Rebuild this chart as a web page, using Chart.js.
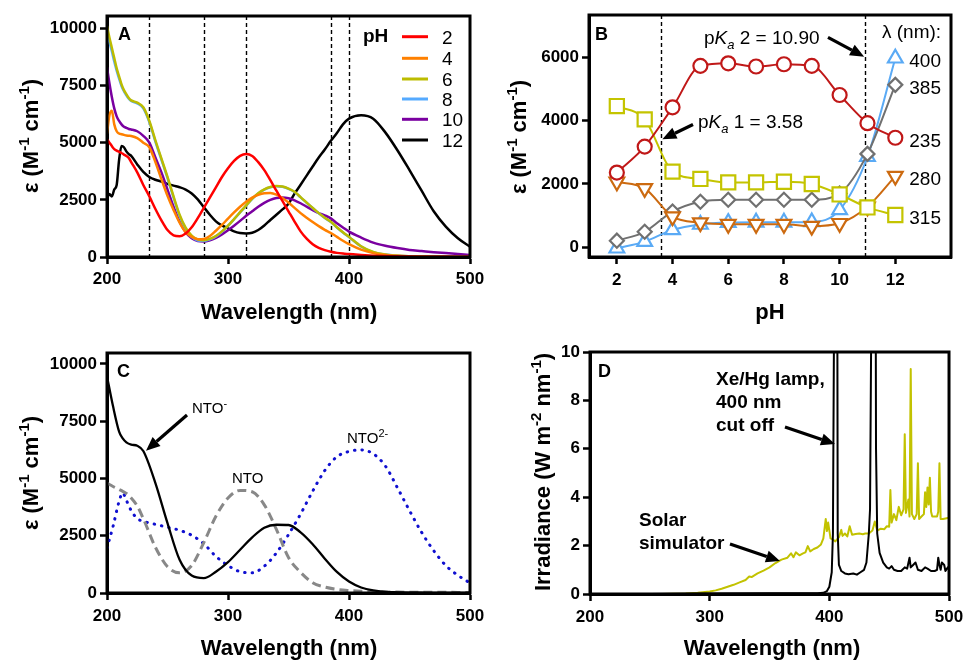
<!DOCTYPE html>
<html><head><meta charset="utf-8">
<script src="https://cdn.jsdelivr.net/npm/chart.js@4/dist/chart.umd.min.js"></script>
<style>
html,body{margin:0;padding:0;background:#fff;}
#wrap{position:relative;width:969px;height:660px;background:#fff;}
canvas{position:absolute;left:0;top:0;}
</style></head><body>
<div id="wrap">
<canvas id="cA" width="969" height="660"></canvas>
<canvas id="cB" width="969" height="660"></canvas>
<canvas id="cC" width="969" height="660"></canvas>
<canvas id="cD" width="969" height="660"></canvas>
</div>
<script>
const FONT = '"Liberation Sans", Arial, Helvetica, sans-serif';

// ---------- Panel A data ----------
const wlA = [200,202,204,206,208,210,212,214,216,218,220,225,230,235,240,245,250,255,260,265,270,275,280,285,290,295,300,305,310,315,320,325,330,335,340,345,350,355,360,365,370,375,380,385,390,395,400,410,420,430,440,450,460,470,480,490,500];
const pHLabels = ['2','4','6','8','10','12'];
const epsPH2 = [5150,5000,4850,4720,4650,4600,4550,4480,4420,4330,4150,3700,3150,2650,2100,1600,1180,950,910,1030,1300,1700,2150,2600,3050,3500,3880,4200,4420,4500,4420,4150,3800,3360,2900,2450,2000,1550,1120,800,560,400,300,230,180,150,130,90,60,40,30,20,15,10,10,10,10];
const epsPH4 = [5400,6200,6400,5800,5500,5400,5370,5340,5310,5300,5290,5200,5000,4800,4150,3400,2680,2060,1500,1080,880,780,790,920,1150,1400,1680,1950,2200,2420,2600,2720,2790,2800,2730,2580,2380,2150,1920,1720,1530,1350,1190,1050,880,710,560,320,170,90,50,30,18,10,6,4,2];
const epsPH6 = [10100,9600,9150,8700,8250,7900,7550,7300,7120,6950,6850,6750,6550,5950,5100,4300,3500,2650,1850,1280,930,770,730,790,920,1120,1370,1660,1960,2260,2550,2790,2960,3060,3100,3080,2990,2850,2620,2380,2150,1920,1720,1540,1300,1080,880,470,220,110,55,30,18,10,6,4,3];
const epsPH8 = [9900,9400,9000,8550,8150,7800,7480,7250,7070,6920,6820,6720,6500,5900,5050,4250,3450,2600,1800,1220,880,720,700,770,900,1100,1360,1650,1950,2250,2540,2780,2950,3050,3090,3070,2980,2840,2610,2370,2140,1910,1710,1530,1290,1070,870,460,215,105,52,28,16,9,5,3,2];
const epsPH10 = [8300,7600,7000,6500,6150,5950,5800,5700,5650,5600,5580,5500,5300,5000,4350,3700,2950,2200,1550,1080,820,700,680,730,840,990,1170,1370,1580,1800,2000,2200,2370,2500,2580,2600,2570,2480,2350,2200,2050,1920,1820,1690,1480,1290,1110,850,630,490,390,310,260,210,170,130,90];
const epsPH12 = [2560,2750,2650,2950,3150,4250,4850,4800,4620,4500,4420,4050,3720,3500,3380,3300,3200,3120,3050,2950,2780,2520,2180,1850,1560,1380,1250,1120,1050,1030,1060,1180,1380,1620,1850,2080,2330,2770,3160,3560,3960,4350,4700,5080,5420,5800,6050,6200,6050,5450,4670,3800,2900,2000,1330,820,450];
const markA = [235,280,315,385,400];
const xTicksWl = [200,300,400,500];
const yTicksEps = [0,2500,5000,7500,10000];

// ---------- Panel B data ----------
const phB = [2,3,4,5,6,7,8,9,10,11,12];
const lamB = ['235','315','280','385','400'];
const e235 = [2360,3180,4420,5730,5810,5710,5780,5730,4810,3920,3460];
const e315 = [4460,4040,2390,2160,2050,2050,2070,2000,1670,1260,1020];
const e280 = [2070,1860,970,780,730,730,730,670,760,1280,2250];
const e385 = [210,490,1130,1440,1500,1500,1500,1500,1700,2950,5130];
const e400 = [-30,180,550,720,780,790,790,800,1180,2860,5970];
const pKa = [3.58, 10.90];
const xTicksPH = [2,4,6,8,10,12];
const yTicksB = [0,2000,4000,6000];

// ---------- Panel C data ----------
const wlC = [200,205,210,213,216,220,225,230,240,250,260,270,280,290,300,310,320,330,340,350,360,370,380,390,400,410,420,430,440,450,460,470,480,490,500];
const epsNTO = [4800,4650,4520,4440,4350,4150,3800,3250,2000,1150,880,1200,2200,3350,4150,4480,4420,3850,2780,1550,900,450,260,160,110,80,60,50,40,35,30,30,30,25,25];
const epsNTOm = [9460,8150,7050,6750,6580,6480,6430,6200,4800,3050,1450,760,650,930,1350,1890,2430,2850,2980,2970,2650,2130,1500,920,500,240,110,50,30,15,10,5,5,5,5];
const epsNTO2m = [1970,2910,4000,4370,4050,3600,3250,3130,3000,2870,2740,2520,2150,1600,1200,930,880,1170,1750,2550,3450,4450,5350,5950,6180,6250,6080,5550,4600,3600,2650,1850,1200,770,440];

// ---------- Panel D data ----------
const wlSolar = [250,260,270,280,290,300,305,310,315,320,325,330,333,335,340,345,350,355,360,365,368,370,372,375,378,380,382,384,387,390,393,395,397,398,399,401,403,405,408,410,411,413,415,417,419,422,425,428,430,433,436,438,440,443,446,448,450,451,452,454,456,458,460,462,463,464,466,467,468,469,471,473,474,475,477,479,480,481,482,483,484,485,486,488,490,491,492,493,495,497,500];
const irrSolar = [0,0,0.01,0.02,0.05,0.1,0.15,0.22,0.3,0.38,0.48,0.58,0.72,0.7,0.85,0.97,1.1,1.28,1.42,1.5,1.68,1.52,1.72,1.6,1.68,1.72,1.98,1.76,1.86,1.92,2.05,2.3,3.1,2.6,2.95,2.3,2.25,2.17,2.35,2.65,2.4,2.5,2.38,2.8,2.45,2.48,2.5,2.47,2.5,2.5,2.62,3.0,2.62,2.7,2.68,2.8,2.78,4.3,2.95,3.3,3.05,3.6,3.25,3.5,6.6,3.35,3.9,3.2,9.3,3.3,3.1,3.3,5.4,3.1,3.2,3.3,4.2,3.6,4.4,3.7,4.8,3.4,3.2,3.2,3.2,3.4,5.4,3.1,3.1,3.12,3.15];
const wlLamp = [250,300,350,390,395,398,400,402,403,404,405,406,407,408,410,413,416,420,423,426,429,431,433,434,435,436,438,439,440,442,445,448,450,452,454,457,460,463,465,467,468,470,472,474,477,480,482,485,488,490,491,492,493,494,496,497,499,500];
const irrLamp = [0,0.02,0.03,0.03,0.05,0.12,0.3,0.9,2.5,12,30,30,2.5,1.2,0.95,0.85,0.82,0.85,0.8,0.9,1.0,1.3,2.5,3.5,11,30,30,6,2.5,1.7,1.3,1.1,1.05,1.15,1.0,0.95,0.95,1.1,1.05,1.5,1.1,1.2,1.3,1.0,0.95,1.1,1.05,0.95,0.95,1.0,1.5,1.2,1.0,1.3,1.2,0.95,1.1,1.0];
const yTicksD = [0,2,4,6,8,10];

// ---------- helpers ----------
const pts = (xs, ys) => xs.map((x, i) => ({x, y: ys[i]}));
const fnt = (s, b, it) => `${it ? 'italic ' : ''}${b ? 'bold ' : ''}${s}px ${FONT}`;

function rich(ctx, parts, x, y, o = {}) {
  ctx.save();
  ctx.translate(x, y);
  if (o.rot) ctx.rotate(o.rot);
  ctx.fillStyle = '#000';
  ctx.textBaseline = 'alphabetic';
  ctx.textAlign = 'left';
  let total = 0;
  parts.forEach(p => { ctx.font = fnt(p.s, p.b, p.i); p.w = ctx.measureText(p.t).width; total += p.w; });
  let cx = o.align === 'center' ? -total / 2 : 0;
  const by = o.vc ? o.vc : 0;
  parts.forEach(p => { ctx.font = fnt(p.s, p.b, p.i); ctx.fillText(p.t, cx, by + (p.dy || 0)); cx += p.w; });
  ctx.restore();
}
function arrow(ctx, x1, y1, x2, y2) {
  const a = Math.atan2(y2 - y1, x2 - x1), hl = 14, hw = 6;
  const bx = x2 - hl * Math.cos(a), by = y2 - hl * Math.sin(a);
  ctx.save();
  ctx.strokeStyle = '#000'; ctx.fillStyle = '#000'; ctx.lineWidth = 3.2; ctx.lineCap = 'butt';
  ctx.beginPath(); ctx.moveTo(x1, y1); ctx.lineTo(bx, by); ctx.stroke();
  ctx.beginPath();
  ctx.moveTo(x2, y2);
  ctx.lineTo(bx + hw * Math.sin(a), by - hw * Math.cos(a));
  ctx.lineTo(bx - hw * Math.sin(a), by + hw * Math.cos(a));
  ctx.closePath(); ctx.fill();
  ctx.restore();
}
function box(chart) {
  const ca = chart.chartArea, ctx = chart.ctx;
  ctx.save(); ctx.strokeStyle = '#000'; ctx.lineWidth = 3;
  ctx.strokeRect(ca.left, ca.top, ca.right - ca.left, ca.bottom - ca.top);
  ctx.restore();
}
function vlines(chart, vals, dash, lw) {
  const ctx = chart.ctx, ca = chart.chartArea, xs = chart.scales.x;
  ctx.save(); ctx.strokeStyle = '#000'; ctx.lineWidth = lw; ctx.setLineDash(dash);
  vals.forEach(v => { const px = Math.round(xs.getPixelForValue(v)) + 0.5; ctx.beginPath(); ctx.moveTo(px, ca.top); ctx.lineTo(px, ca.bottom); ctx.stroke(); });
  ctx.restore();
}
const TICKFONT = {family: FONT, size: 17, weight: 'bold'};
function xAxis(min, max, ticks, pad) {
  return {type: 'linear', min, max,
    afterBuildTicks: s => { s.ticks = ticks.map(v => ({value: v})); },
    afterFit: s => { s.height = 50; },
    ticks: {font: TICKFONT, color: '#000', padding: pad, maxRotation: 0, autoSkip: false, callback: v => String(v)},
    grid: {drawOnChartArea: false, drawTicks: true, tickLength: 7, tickWidth: 2.5, color: '#000'},
    border: {display: true, width: 3, color: '#000'}};
}
function yAxis(min, max, ticks) {
  return {type: 'linear', min, max,
    afterBuildTicks: s => { s.ticks = ticks.map(v => ({value: v})); },
    afterFit: s => { s.width = 70; },
    ticks: {font: TICKFONT, color: '#000', padding: 3, autoSkip: false, callback: v => String(v)},
    grid: {drawOnChartArea: false, drawTicks: true, tickLength: 7, tickWidth: 2.5, color: '#000'},
    border: {display: true, width: 3, color: '#000'}};
}
function baseOpts(pad, scales) {
  return {responsive: false, animation: false, events: [],
    layout: {padding: pad},
    plugins: {legend: {display: false}, tooltip: {enabled: false}, title: {display: false}},
    scales};
}
function lineDs(label, data, color, extra = {}) {
  return Object.assign({label, data, borderColor: color, backgroundColor: color, borderWidth: 2.5,
    pointRadius: 0, fill: false, cubicInterpolationMode: 'monotone', borderJoinStyle: 'round'}, extra);
}
const epsTitle = [
  {t: 'ε (M', s: 22, b: true}, {t: '-1', s: 15, b: true, dy: -9},
  {t: ' cm', s: 22, b: true}, {t: '-1', s: 15, b: true, dy: -9}, {t: ')', s: 22, b: true}];
const wlTitle = [{t: 'Wavelength (nm)', s: 22, b: true}];

// ---------- Panel A ----------
const colorsA = ['#ff0000', '#ff8000', '#bcbc00', '#55aaff', '#7a00a0', '#000000'];
const seriesA = [epsPH2, epsPH4, epsPH6, epsPH8, epsPH10, epsPH12];
new Chart(document.getElementById('cA'), {
  type: 'line',
  data: {datasets: seriesA.map((s, i) => lineDs(pHLabels[i], pts(wlA, s), colorsA[i]))},
  options: baseOpts({left: 37, top: 16, right: 499, bottom: 353},
    {x: xAxis(200, 500, xTicksWl, 5), y: yAxis(0, 10540, yTicksEps)}),
  plugins: [{id: 'pa',
    beforeDatasetsDraw(chart) { vlines(chart, markA, [4, 3], 1.4); },
    afterDraw(chart) {
      const ctx = chart.ctx;
      box(chart);
      rich(ctx, [{t: 'A', s: 18, b: true}], 118, 39.5);
      rich(ctx, [{t: 'pH', s: 19, b: true}], 363, 42);
      const rows = [36.7, 58.3, 79, 99, 119.3, 140];
      chart.data.datasets.forEach((d, i) => {
        ctx.save(); ctx.strokeStyle = d.borderColor; ctx.lineWidth = 3;
        ctx.beginPath(); ctx.moveTo(402, rows[i]); ctx.lineTo(428, rows[i]); ctx.stroke(); ctx.restore();
        rich(ctx, [{t: d.label, s: 19}], 442, rows[i] + 6.8);
      });
      rich(ctx, epsTitle, 30, 136, {rot: -Math.PI / 2, align: 'center', vc: 8});
      rich(ctx, wlTitle, 289, 319, {align: 'center'});
    }}]
});

// ---------- Panel B ----------
const seriesB = [e235, e315, e280, e385, e400];
const colorsB = ['#c01818', '#c4c400', '#cc6a10', '#707070', '#5aaaf5'];
const stylesB = [
  {pointStyle: 'circle', pointRadius: 7},
  {pointStyle: 'rect', pointRadius: 10},
  {pointStyle: 'triangle', pointRadius: 8.5, pointRotation: 180},
  {pointStyle: 'rectRot', pointRadius: 7},
  {pointStyle: 'triangle', pointRadius: 8.5}];
new Chart(document.getElementById('cB'), {
  type: 'line',
  data: {datasets: seriesB.map((s, i) => lineDs(lamB[i], pts(phB, s), colorsB[i], Object.assign({
    borderWidth: 2, pointBackgroundColor: '#fff', pointBorderColor: colorsB[i], pointBorderWidth: 2.2}, stylesB[i])))},
  options: baseOpts({left: 519, top: 15, right: 18, bottom: 353},
    {x: xAxis(1, 14, xTicksPH, 6.5), y: yAxis(-306, 7336, yTicksB)}),
  plugins: [{id: 'pb',
    beforeDatasetsDraw(chart) { vlines(chart, pKa, [4, 3], 1.4); },
    afterDraw(chart) {
      const ctx = chart.ctx, xs = chart.scales.x, ys = chart.scales.y;
      box(chart);
      rich(ctx, [{t: 'B', s: 18, b: true}], 595, 39.5);
      rich(ctx, [{t: 'p', s: 19}, {t: 'K', s: 19, i: true}, {t: 'a', s: 13, i: true, dy: 5}, {t: ' 2 = 10.90', s: 19}], 704, 44);
      rich(ctx, [{t: 'p', s: 19}, {t: 'K', s: 19, i: true}, {t: 'a', s: 13, i: true, dy: 5}, {t: ' 1 = 3.58', s: 19}], 698, 128);
      arrow(ctx, 693, 124.5, xs.getPixelForValue(pKa[0]) + 1.5, 139.3);
      arrow(ctx, 828, 37.3, xs.getPixelForValue(pKa[1]) - 0.5, 56.7);
      rich(ctx, [{t: 'λ (nm):', s: 19}], 882, 38);
      chart.data.datasets.forEach((d, i) => {
        const last = d.data[d.data.length - 1];
        rich(ctx, [{t: d.label, s: 19}], xs.getPixelForValue(last.x) + 14, ys.getPixelForValue(last.y) + 9);
      });
      rich(ctx, epsTitle, 518, 137, {rot: -Math.PI / 2, align: 'center', vc: 8});
      rich(ctx, [{t: 'pH', s: 22, b: true}], 770, 319, {align: 'center'});
    }}]
});

// ---------- Panel C ----------
new Chart(document.getElementById('cC'), {
  type: 'line',
  data: {datasets: [
    lineDs('NTO-', pts(wlC, epsNTOm), '#000000', {borderWidth: 2.3}),
    lineDs('NTO', pts(wlC, epsNTO), '#888888', {borderWidth: 3, borderDash: [9, 5]}),
    lineDs('NTO2-', pts(wlC, epsNTO2m), '#1010d0', {borderWidth: 3, borderDash: [0.5, 7], borderCapStyle: 'round'})]},
  options: baseOpts({left: 37, top: 353, right: 499, bottom: 17},
    {x: xAxis(200, 500, xTicksWl, 5.8), y: yAxis(0, 10480, yTicksEps)}),
  plugins: [{id: 'pc',
    afterDraw(chart) {
      const ctx = chart.ctx;
      box(chart);
      rich(ctx, [{t: 'C', s: 18, b: true}], 117, 377);
      rich(ctx, [{t: 'NTO', s: 15}, {t: '-', s: 11, dy: -6}], 192, 413);
      arrow(ctx, 187, 415, 146, 450.7);
      rich(ctx, [{t: 'NTO', s: 15}], 232, 483);
      rich(ctx, [{t: 'NTO', s: 15}, {t: '2-', s: 11, dy: -6}], 347, 443);
      rich(ctx, epsTitle, 30, 473, {rot: -Math.PI / 2, align: 'center', vc: 8});
      rich(ctx, wlTitle, 289, 655, {align: 'center'});
    }}]
});

// ---------- Panel D ----------
new Chart(document.getElementById('cD'), {
  type: 'line',
  data: {datasets: [
    lineDs('Xe/Hg lamp, 400 nm cut off', pts(wlLamp, irrLamp), '#000000', {borderWidth: 2, cubicInterpolationMode: 'default', tension: 0}),
    lineDs('Solar simulator', pts(wlSolar, irrSolar), '#c2c200', {borderWidth: 2, cubicInterpolationMode: 'default', tension: 0})]},
  options: baseOpts({left: 520, top: 352, right: 16, bottom: 16},
    {x: xAxis(200, 500, xTicksWl, 5.8), y: yAxis(0, 10, yTicksD)}),
  plugins: [{id: 'pd',
    afterDraw(chart) {
      const ctx = chart.ctx;
      box(chart);
      rich(ctx, [{t: 'D', s: 18, b: true}], 598, 377);
      rich(ctx, [{t: 'Xe/Hg lamp,', s: 19, b: true}], 716, 385);
      rich(ctx, [{t: '400 nm', s: 19, b: true}], 716, 408);
      rich(ctx, [{t: 'cut off', s: 19, b: true}], 716, 431);
      arrow(ctx, 785, 427, 835, 444);
      rich(ctx, [{t: 'Solar', s: 19, b: true}], 639, 526);
      rich(ctx, [{t: 'simulator', s: 19, b: true}], 639, 549);
      arrow(ctx, 730, 544, 780, 561);
      rich(ctx, [{t: 'Irradiance (W m', s: 22, b: true}, {t: '-2', s: 15, b: true, dy: -9},
        {t: ' nm', s: 22, b: true}, {t: '-1', s: 15, b: true, dy: -9}, {t: ')', s: 22, b: true}],
        542, 472, {rot: -Math.PI / 2, align: 'center', vc: 8});
      rich(ctx, wlTitle, 772, 655, {align: 'center'});
    }}]
});
</script>
</body></html>
